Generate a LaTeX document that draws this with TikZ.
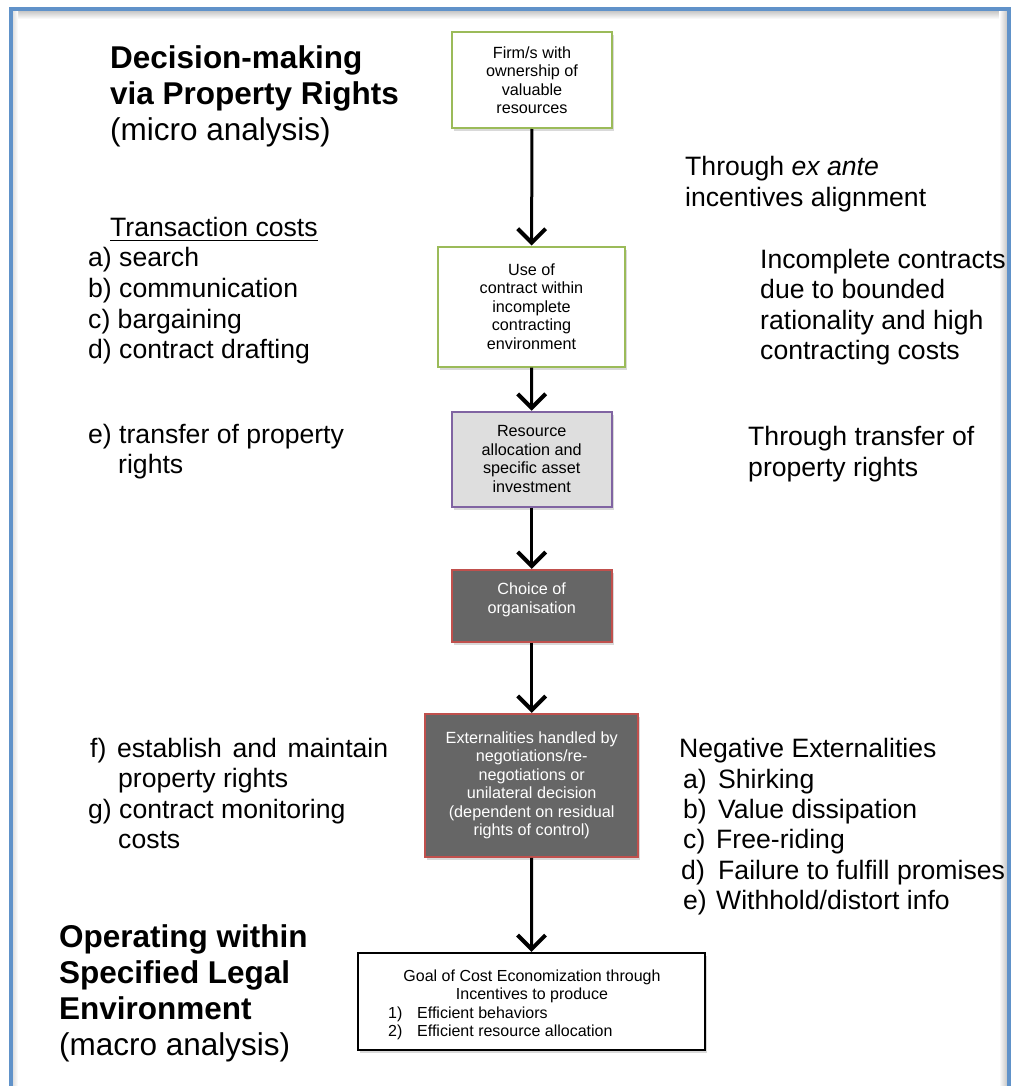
\documentclass[tikz,border=0pt]{standalone}
\usepackage{fontspec}
\setmainfont{Liberation Sans}
\usetikzlibrary{arrows.meta,shadows}

\definecolor{frameblue}{RGB}{96,146,201}
\definecolor{olivegreen}{RGB}{155,187,89}
\definecolor{lilac}{RGB}{128,100,162}
\definecolor{brickred}{RGB}{192,80,77}
\definecolor{darkfill}{RGB}{102,102,102}
\definecolor{lightfill}{RGB}{222,222,222}

\begin{document}
\begin{tikzpicture}[x=1pt,y=-1pt,
  boxtext/.style={align=center, inner sep=0pt, font=\fontsize{16.2}{18.5}\selectfont},
  box/.style={boxtext, draw, line width=2pt, fill=white,
    drop shadow={shadow xshift=2pt, shadow yshift=-3pt, opacity=0.3}},
  greenbox/.style={box, draw=olivegreen},
  lilacbox/.style={box, draw=lilac, fill=lightfill},
  darkbox/.style={box, draw=brickred, fill=darkfill, text=white},
  goalbox/.style={box, draw=black, line width=2.2pt},
  goaltext/.style={inner sep=0pt, font=\fontsize{16}{18.3}\selectfont},
  flow/.style={line width=3pt, -{Straight Barb[length=14pt,width=28pt,line width=4pt]}},
  lbl/.style={anchor=base west, inner sep=0pt, font=\fontsize{26.6}{30.6}\selectfont},
  ttl/.style={anchor=base west, inner sep=0pt, font=\fontsize{31.5}{36}\selectfont\bfseries},
  sub/.style={anchor=base west, inner sep=0pt, font=\fontsize{31.5}{36}\selectfont},
]
\useasboundingbox (0,0) rectangle (1011,1086);

% page frame with inner shading
\shade[top color=black!22, bottom color=white] (13,11) rectangle (1007,19);
\shade[left color=white, right color=black!22] (999,11) rectangle (1007,1086);
\shade[left color=black!12, right color=white] (13,11) rectangle (18,1086);
\draw[frameblue, line width=4pt] (11,1092) -- (11,9) -- (1009,9) -- (1009,1092);

% flow boxes
\node[greenbox, minimum width=160pt, minimum height=96pt] (firm) at (532,80)
  {Firm/s with\\ownership of\\valuable\\resources};
\node[greenbox, minimum width=187pt, minimum height=120pt] (contract) at (531.5,306.5)
  {Use of\\contract within\\incomplete\\contracting\\environment};
\node[lilacbox, minimum width=160pt, minimum height=95pt] (alloc) at (531.7,459.2)
  {Resource\\allocation and\\specific asset\\investment};
\node[darkbox, minimum width=160pt, minimum height=72pt] (org) at (531.7,605.8) {};
\node[boxtext, text=white] (orgtext) at (531.7,600) {Choice of\\organisation};
\node[darkbox, minimum width=213pt, minimum height=143pt] (ext) at (531.7,785.3)
  {Externalities handled by\\negotiations/re-\\negotiations or\\unilateral decision\\(dependent on residual\\rights of control)};
\node[goalbox, minimum width=347pt, minimum height=97pt] (goal) at (531.5,1001.5) {};
\node[goaltext, anchor=base] (goal1) at (532,981.5) {Goal of Cost Economization through};
\node[goaltext, anchor=base] (goal2) at (532,999.7) {Incentives to produce};
\node[goaltext, anchor=base west] (goal3n) at (388,1018) {1)};
\node[goaltext, anchor=base west] (goal3) at (417,1018) {Efficient behaviors};
\node[goaltext, anchor=base west] (goal4n) at (388,1036.3) {2)};
\node[goaltext, anchor=base west] (goal4) at (417,1036.3) {Efficient resource allocation};

% connectors
\draw[flow] (firm) -- (contract);
\draw[flow] (contract) -- (alloc);
\draw[flow] (alloc) -- (org);
\draw[flow] (org) -- (ext);
\draw[flow] (ext) -- (goal);

% headings
\node[ttl] (h1) at (110,69) {Decision-making};
\node[ttl] (h2) at (110,105) {via Property Rights};
\node[sub] (h3) at (110,141) {(micro analysis)};
\node[ttl] (m1) at (59,947) {Operating within};
\node[ttl] (m2) at (59,983) {Specified Legal};
\node[ttl] (m3) at (59,1019) {Environment};
\node[sub] (m4) at (59,1055) {(macro analysis)};

% transaction costs
\node[lbl] (tc) at (110,236) {Transaction costs};
\draw[line width=1.3pt] ([yshift=-4.5pt]tc.base west) -- ([yshift=-4.5pt]tc.base east);
\node[lbl] (ta) at (88,266.7) {a) search};
\node[lbl] (tb) at (88,297.3) {b) communication};
\node[lbl] (tcc) at (88,328) {c) bargaining};
\node[lbl] (td) at (88,358.5) {d) contract drafting};
\node[lbl] (te) at (88,443) {e) transfer of property};
\node[lbl] (te2) at (118,473.5) {rights};
\node[lbl] (tf) at (90,757) {\makebox[298pt][s]{f) establish and maintain}};
\node[lbl] (tf2) at (118,787.5) {property rights};
\node[lbl] (tg) at (88,818) {g) contract monitoring};
\node[lbl] (tg2) at (118,848.5) {costs};

% right-hand notes
\node[lbl] (r1) at (685,175.5) {Through \textit{ex ante}};
\node[lbl] (r1b) at (685,206) {incentives alignment};
\node[lbl] (r2) at (760,268) {Incomplete contracts};
\node[lbl] (r2b) at (760,298.5) {due to bounded};
\node[lbl] (r2c) at (760,329) {rationality and high};
\node[lbl] (r2d) at (760,359.5) {contracting costs};
\node[lbl] (r3) at (748,445) {Through transfer of};
\node[lbl] (r3b) at (748,476) {property rights};
\node[lbl] (ne) at (679,757) {Negative Externalities};
\node[lbl] (nea) at (683,788) {a)};
\node[lbl] (neat) at (718,788) {Shirking};
\node[lbl] (neb) at (683,818) {b)};
\node[lbl] (nebt) at (718,818) {Value dissipation};
\node[lbl] (nec) at (683,848.5) {c)};
\node[lbl] (nect) at (716,848.5) {Free-riding};
\node[lbl] (ned) at (681,879) {d)};
\node[lbl] (nedt) at (718,879) {Failure to fulfill promises};
\node[lbl] (nee) at (683,909.5) {e)};
\node[lbl] (neet) at (716,909.5) {Withhold/distort info};
\end{tikzpicture}
\end{document}
